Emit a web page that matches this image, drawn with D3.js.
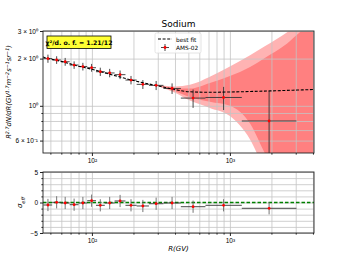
<!DOCTYPE html>
<html lang="en">
<head>
<meta charset="UTF-8">
<script src="https://d3js.org/d3.v7.min.js"></script>
<style>
    body { margin: 0; background: #fff; }
    svg { display: block; font-family: "DejaVu Sans", sans-serif; }
    .grid line { stroke: #c4c4c4; stroke-width: 0.8; }
    .grid path { display: none; }
    .ax text { font-size: 6.5px; fill: #000; }
    .ax path, .ax line { stroke: #222; }
</style>
<title>Sodium</title>
</head>
<body>
<svg id="chart" width="349" height="262"></svg>
<script>
    // AMS-02 points
    var R      = [48, 55.5, 64, 74.3, 86, 99.5, 115, 134.5, 160, 192, 234, 292, 381, 541, 900, 1924];
    var binLo  = [44.5, 51.5, 59.5, 69, 80, 92.5, 107, 124, 146, 175, 211, 259, 330, 441, 665, 1220];
    var binHi  = [51.5, 59.5, 69, 80, 92.5, 107, 124, 146, 175, 211, 259, 330, 441, 665, 1220, 3035];
    var flux   = [2.0, 1.96, 1.91, 1.82, 1.78, 1.75, 1.65, 1.62, 1.58, 1.46, 1.37, 1.35, 1.29, 1.12, 1.13, 0.80];
    var fluxErr = [0.12, 0.11, 0.11, 0.10, 0.10, 0.10, 0.10, 0.10, 0.10, 0.09, 0.09, 0.09, 0.10, 0.15, 0.19, 0.45];
    var resid  = [-0.41, 0.03, -0.08, -0.36, -0.08, 0.3, -0.46, -0.08, 0.25, -0.46, -0.57, -0.2, -0.08, -0.69, -0.46, -0.95];
    var residErr = [1, 1, 1, 1, 1, 1, 1, 1, 1, 1, 1, 1, 1, 1, 1, 1];

    // best fit curve
    var fitR    = [44, 50, 60, 80, 100, 150, 200, 300, 400, 500, 700, 1000, 2000, 4070];
    var fitFlux = [2.05, 1.99, 1.92, 1.79, 1.71, 1.55, 1.45, 1.34, 1.27, 1.23, 1.22, 1.225, 1.245, 1.27];

    // uncertainty bands
    var bandR   = [280, 400, 513, 716, 1000, 1400, 1790, 2600, 3217, 4070];
    var band2Lo = [1.36, 1.21, 1.08, 0.97, 0.86, 0.61, 0.39, 0.25, 0.2, 0.15];
    var band1Lo = [1.36, 1.24, 1.14, 1.06, 1.00, 0.77, 0.50, 0.29, 0.24, 0.2];
    var band1Hi = [1.36, 1.30, 1.29, 1.40, 1.55, 1.77, 2.02, 2.5, 2.95, 3.4];
    var band2Hi = [1.36, 1.33, 1.36, 1.53, 1.78, 2.1, 2.4, 2.95, 3.4, 3.97];

    var xMajor = [100, 1000];
    var xMinor = [50, 60, 70, 80, 90, 200, 300, 400, 500, 600, 700, 800, 900, 2000, 3000, 4000];
    var yTopMajor = [1];
    var yTopMinor = [0.6, 0.7, 0.8, 0.9, 2, 3];
    var yTopLabels = {3: "3 × 10⁰", 2: "2 × 10⁰", 1: "10⁰", 0.6: "6 × 10⁻¹"};
    var yBotMajor = [-5, 0, 5];
    var yBotMinor = [-4, -3, -2, -1, 1, 2, 3, 4];

    var chi2Text = "χ²/d. o. f. = 1.21/12";

    var svg = d3.select("#chart");
    var L = 43, Rt = 314;
    var top1 = 31, bot1 = 153, top2 = 172, bot2 = 233;

    var x = d3.scaleLog().domain([44.2, 4070]).range([L, Rt]);
    var y1 = d3.scaleLog().domain([0.5, 3]).range([bot1, top1]);
    var y2 = d3.scaleLinear().domain([-5, 5]).range([bot2, top2]);

    var allX = xMajor.concat(xMinor);

    // clip paths
    var defs = svg.append("defs");
    defs.append("clipPath").attr("id", "c1").append("rect")
        .attr("x", L).attr("y", top1).attr("width", Rt - L).attr("height", bot1 - top1);
    defs.append("clipPath").attr("id", "c2").append("rect")
        .attr("x", L).attr("y", top2).attr("width", Rt - L).attr("height", bot2 - top2);

    // ---------- top panel ----------
    var bands = svg.append("g").attr("clip-path", "url(#c1)");
    var bandData = bandR.map(function (r, i) {
        return {r: r, l2: band2Lo[i], l1: band1Lo[i], h1: band1Hi[i], h2: band2Hi[i]};
    });
    bands.append("path").datum(bandData)
        .attr("fill", "#ffb3b3")
        .attr("d", d3.area().curve(d3.curveMonotoneX)
            .x(function (d) { return x(d.r); })
            .y0(function (d) { return y1(d.l2); })
            .y1(function (d) { return y1(d.h2); }));
    bands.append("path").datum(bandData)
        .attr("fill", "#ff8080")
        .attr("d", d3.area().curve(d3.curveMonotoneX)
            .x(function (d) { return x(d.r); })
            .y0(function (d) { return y1(d.l1); })
            .y1(function (d) { return y1(d.h1); }));

    // grid
    svg.append("g").attr("class", "grid")
        .attr("transform", "translate(0," + bot1 + ")")
        .call(d3.axisBottom(x).tickValues(allX).tickSize(-(bot1 - top1)).tickFormat(""));
    svg.append("g").attr("class", "grid")
        .attr("transform", "translate(" + L + ",0)")
        .call(d3.axisLeft(y1).tickValues(yTopMajor.concat(yTopMinor)).tickSize(-(Rt - L)).tickFormat(""));

    var pts = R.map(function (r, i) {
        return {r: r, lo: binLo[i], hi: binHi[i], f: flux[i], e: fluxErr[i], s: resid[i], se: residErr[i]};
    });

    var g1 = svg.append("g").attr("clip-path", "url(#c1)");
    g1.selectAll(".hbar").data(pts).join("line")
        .attr("x1", function (d) { return x(d.lo); })
        .attr("x2", function (d) { return x(d.hi); })
        .attr("y1", function (d) { return y1(d.f); })
        .attr("y2", function (d) { return y1(d.f); })
        .attr("stroke", "#333").attr("stroke-width", 0.9);
    g1.selectAll(".vbar").data(pts).join("line")
        .attr("x1", function (d) { return x(d.r); })
        .attr("x2", function (d) { return x(d.r); })
        .attr("y1", function (d) { return y1(d.f - d.e); })
        .attr("y2", function (d) { return y1(d.f + d.e); })
        .attr("stroke", "#333").attr("stroke-width", 0.9);

    var fitData = fitR.map(function (r, i) { return [r, fitFlux[i]]; });
    g1.append("path").datum(fitData)
        .attr("fill", "none").attr("stroke", "#000").attr("stroke-width", 1.1)
        .attr("stroke-dasharray", "3,1.6")
        .attr("d", d3.line().curve(d3.curveMonotoneX)
            .x(function (d) { return x(d[0]); })
            .y(function (d) { return y1(d[1]); }));

    g1.selectAll(".pt").data(pts).join("circle")
        .attr("cx", function (d) { return x(d.r); })
        .attr("cy", function (d) { return y1(d.f); })
        .attr("r", 1.4).attr("fill", "red");

    // axes
    svg.append("g").attr("class", "ax").attr("transform", "translate(0," + bot1 + ")")
        .call(d3.axisBottom(x).tickValues(xMajor).tickSize(3).tickPadding(2.5)
            .tickFormat(function (d) { return d === 100 ? "10²" : "10³"; }));
    svg.append("g").attr("class", "ax").attr("transform", "translate(0," + bot1 + ")")
        .call(d3.axisBottom(x).tickValues(xMinor).tickSize(1.6).tickFormat(""));
    svg.append("g").attr("class", "ax").attr("transform", "translate(" + L + ",0)")
        .call(d3.axisLeft(y1).tickValues([3, 2, 1, 0.6]).tickSize(3).tickPadding(2)
            .tickFormat(function (d) { return yTopLabels[d]; }));
    svg.append("g").attr("class", "ax").attr("transform", "translate(" + L + ",0)")
        .call(d3.axisLeft(y1).tickValues([0.7, 0.8, 0.9]).tickSize(1.6).tickFormat(""));

    svg.append("rect").attr("x", L).attr("y", top1).attr("width", Rt - L).attr("height", bot1 - top1)
        .attr("fill", "none").attr("stroke", "#222").attr("stroke-width", 0.9);

    // title
    svg.append("text").attr("x", (L + Rt) / 2).attr("y", 27).attr("text-anchor", "middle")
        .attr("font-size", "9px").text("Sodium");

    // y label
    var ylab = svg.append("text").attr("transform", "translate(11," + ((top1 + bot1) / 2) + ") rotate(-90)")
        .attr("text-anchor", "middle").attr("font-size", "6.8px").attr("font-style", "italic");
    var parts = [["R", 0], ["2.7", 1], ["dN/dR(GV", 0], ["1.7", 1], ["m", 0], ["−2", 1], ["s", 0], ["−1", 1], ["sr", 0], ["−1", 1], [")", 0]];
    parts.forEach(function (p) {
        ylab.append("tspan").text(p[0])
            .attr("font-size", p[1] ? "4.8px" : "6.8px")
            .attr("baseline-shift", p[1] ? "super" : null);
    });

    // chi2 box
    var chi = svg.append("g");
    chi.append("rect").attr("x", 47).attr("y", 36).attr("width", 64).attr("height", 12.5)
        .attr("fill", "#ffff33").attr("stroke", "#000").attr("stroke-width", 0.8);
    chi.append("text").attr("x", 79).attr("y", 45).attr("text-anchor", "middle")
        .attr("font-size", "6.2px").attr("font-weight", "bold").text(chi2Text);

    // legend
    var lg = svg.append("g");
    lg.append("rect").attr("x", 155).attr("y", 33).attr("width", 46).attr("height", 20).attr("rx", 1.5)
        .attr("fill", "#fff").attr("fill-opacity", 0.85).attr("stroke", "#ddd").attr("stroke-width", 0.8);
    lg.append("line").attr("x1", 158).attr("x2", 172).attr("y1", 39).attr("y2", 39)
        .attr("stroke", "#000").attr("stroke-width", 1.1).attr("stroke-dasharray", "3,1.6");
    lg.append("line").attr("x1", 161).attr("x2", 169).attr("y1", 47.5).attr("y2", 47.5)
        .attr("stroke", "#333").attr("stroke-width", 0.9);
    lg.append("line").attr("x1", 165).attr("x2", 165).attr("y1", 44).attr("y2", 51)
        .attr("stroke", "#333").attr("stroke-width", 0.9);
    lg.append("circle").attr("cx", 165).attr("cy", 47.5).attr("r", 1.4).attr("fill", "red");
    lg.append("text").attr("x", 176).attr("y", 41.5).attr("font-size", "5.8px").text("best fit");
    lg.append("text").attr("x", 176).attr("y", 50).attr("font-size", "5.8px").text("AMS-02");

    // ---------- bottom panel ----------
    svg.append("g").attr("class", "grid")
        .attr("transform", "translate(0," + bot2 + ")")
        .call(d3.axisBottom(x).tickValues(allX).tickSize(-(bot2 - top2)).tickFormat(""));
    svg.append("g").attr("class", "grid")
        .attr("transform", "translate(" + L + ",0)")
        .call(d3.axisLeft(y2).tickValues(yBotMajor.concat(yBotMinor)).tickSize(-(Rt - L)).tickFormat(""));

    var g2 = svg.append("g").attr("clip-path", "url(#c2)");
    g2.append("line").attr("x1", L).attr("x2", Rt).attr("y1", y2(0)).attr("y2", y2(0))
        .attr("stroke", "#008000").attr("stroke-width", 1.3).attr("stroke-dasharray", "3.5,2");
    g2.selectAll(".hbar").data(pts).join("line")
        .attr("x1", function (d) { return x(d.lo); })
        .attr("x2", function (d) { return x(d.hi); })
        .attr("y1", function (d) { return y2(d.s); })
        .attr("y2", function (d) { return y2(d.s); })
        .attr("stroke", "#333").attr("stroke-width", 0.9);
    g2.selectAll(".vbar").data(pts).join("line")
        .attr("x1", function (d) { return x(d.r); })
        .attr("x2", function (d) { return x(d.r); })
        .attr("y1", function (d) { return y2(d.s - d.se); })
        .attr("y2", function (d) { return y2(d.s + d.se); })
        .attr("stroke", "#666").attr("stroke-width", 0.9);
    g2.selectAll(".pt").data(pts).join("circle")
        .attr("cx", function (d) { return x(d.r); })
        .attr("cy", function (d) { return y2(d.s); })
        .attr("r", 1.4).attr("fill", "red");

    svg.append("g").attr("class", "ax").attr("transform", "translate(0," + bot2 + ")")
        .call(d3.axisBottom(x).tickValues(xMajor).tickSize(3).tickPadding(2.5)
            .tickFormat(function (d) { return d === 100 ? "10²" : "10³"; }));
    svg.append("g").attr("class", "ax").attr("transform", "translate(0," + bot2 + ")")
        .call(d3.axisBottom(x).tickValues(xMinor).tickSize(1.6).tickFormat(""));
    svg.append("g").attr("class", "ax").attr("transform", "translate(" + L + ",0)")
        .call(d3.axisLeft(y2).tickValues(yBotMajor).tickSize(3).tickPadding(2)
            .tickFormat(function (d) { return d < 0 ? "−5" : d; }));
    svg.append("g").attr("class", "ax").attr("transform", "translate(" + L + ",0)")
        .call(d3.axisLeft(y2).tickValues(yBotMinor).tickSize(1.6).tickFormat(""));

    svg.append("rect").attr("x", L).attr("y", top2).attr("width", Rt - L).attr("height", bot2 - top2)
        .attr("fill", "none").attr("stroke", "#222").attr("stroke-width", 0.9);
    svg.selectAll(".ax .domain").remove();

    var sl = svg.append("text").attr("transform", "translate(22," + y2(0) + ") rotate(-90)")
        .attr("text-anchor", "middle").attr("font-size", "7px").attr("font-style", "italic");
    sl.append("tspan").text("σ");
    sl.append("tspan").text("eff").attr("font-size", "5px").attr("baseline-shift", "sub");

    svg.append("text").attr("x", (L + Rt) / 2).attr("y", 251).attr("text-anchor", "middle")
        .attr("font-size", "7px").attr("font-style", "italic").text("R(GV)");
</script>
</body>
</html>
